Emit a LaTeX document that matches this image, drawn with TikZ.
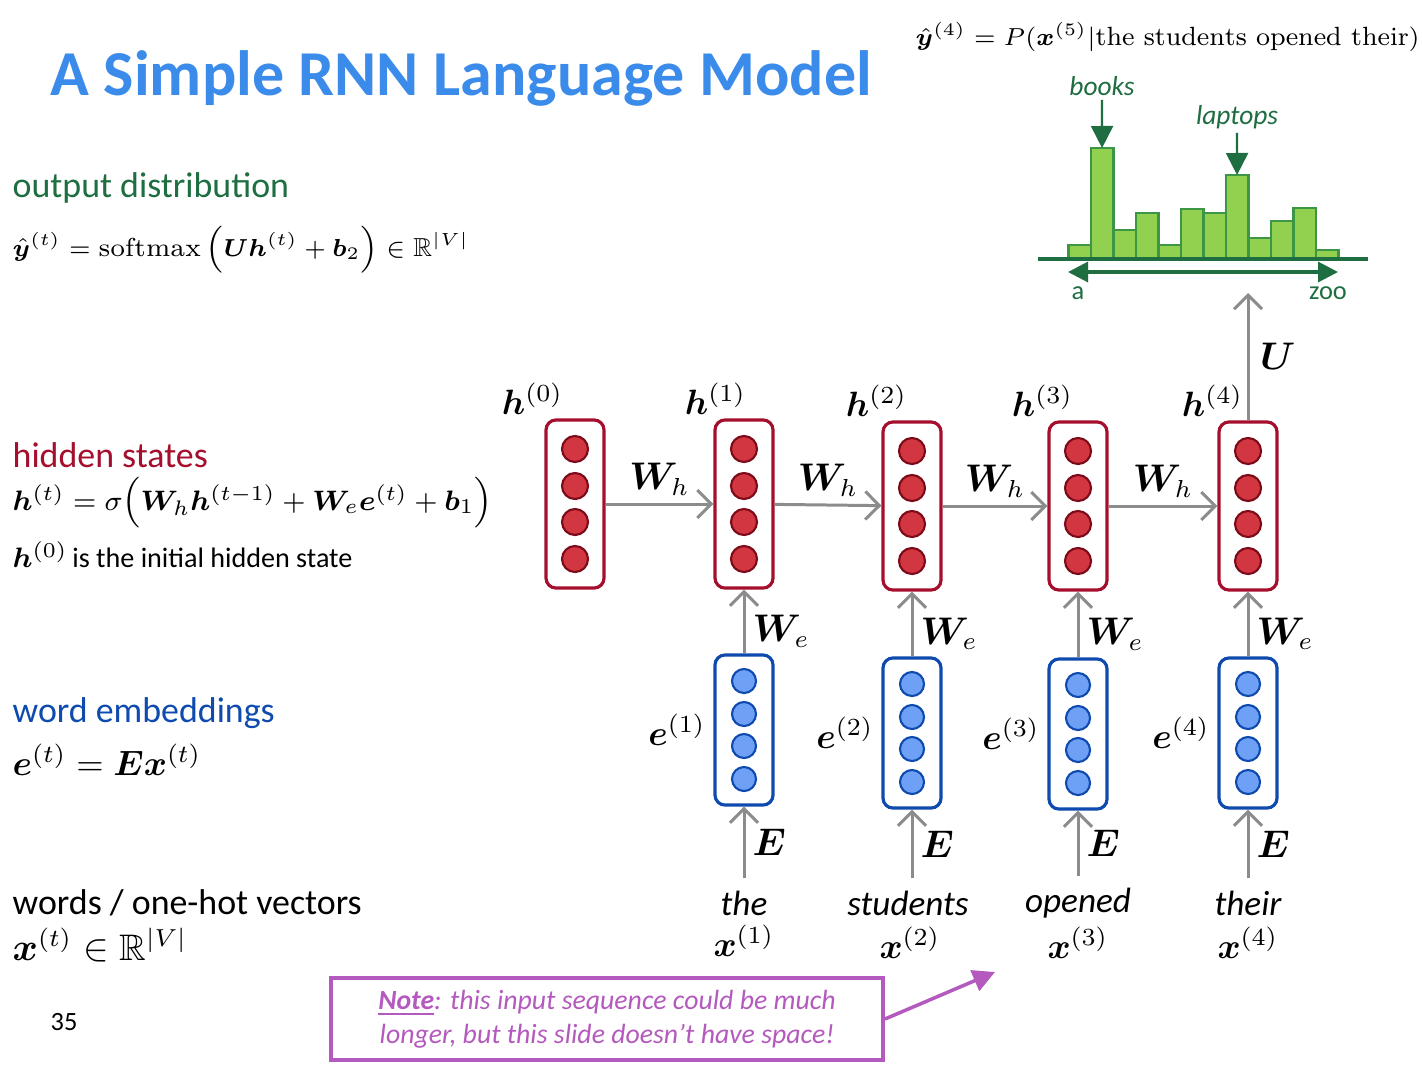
\documentclass[tikz,border=0pt]{standalone}
\usepackage{fontspec}
\usepackage{amsmath,amssymb,bm}
\newfontfamily\calibri{Carlito}
\usetikzlibrary{arrows.meta,positioning}
\definecolor{titleblue}{RGB}{59,139,235}
\definecolor{distgreen}{RGB}{30,110,65}
\definecolor{hidred}{RGB}{165,15,45}
\definecolor{hidfill}{RGB}{210,55,65}
\definecolor{hiddark}{RGB}{125,10,25}
\definecolor{embblue}{RGB}{15,75,175}
\definecolor{embfill}{RGB}{110,160,245}
\definecolor{flowgray}{RGB}{140,140,140}
\definecolor{barfill}{RGB}{146,208,80}
\definecolor{baredge}{RGB}{60,150,70}
\definecolor{notepurple}{RGB}{180,90,190}

\begin{document}
\begin{tikzpicture}[
    x=0.01cm,y=-0.01cm,
    hbox/.style={rectangle,rounded corners=1mm,draw=hidred,fill=white,line width=0.9pt,
      minimum width=0.58cm,minimum height=1.68cm},
    ebox/.style={rectangle,rounded corners=1mm,draw=embblue,fill=white,line width=0.9pt,
      minimum width=0.58cm,minimum height=1.5cm},
    hdot/.style={circle,draw=hiddark,fill=hidfill,line width=0.6pt,minimum size=0.26cm,inner sep=0pt},
    edot/.style={circle,draw=embblue,fill=embfill,line width=0.6pt,minimum size=0.24cm,inner sep=0pt},
    flow/.style={-{Straight Barb[length=1.4mm,width=2.8mm]},draw=flowgray,line width=0.85pt},
    pointer/.style={-{Triangle[length=2.2mm,width=2.2mm]},line width=1pt},
    mlbl/.style={font=\fontsize{10}{12}\selectfont,inner sep=2pt},
    wlbl/.style={font=\fontsize{10.5}{12}\selectfont,inner sep=1pt},
    word/.style={font=\calibri\itshape\fontsize{10}{12}\selectfont},
    heading/.style={font=\calibri\fontsize{10.2}{12}\selectfont,anchor=west,inner sep=0pt},
    formula/.style={font=\fontsize{8}{10}\selectfont,anchor=west,inner sep=0pt},
    histlbl/.style={font=\calibri\fontsize{7.5}{9}\selectfont,text=distgreen}
  ]
    \useasboundingbox[fill=white] (0,0) rectangle (1422,1066);

    % title and left-hand legend
    \node[anchor=base west,inner sep=0pt,text=titleblue,font=\calibri\bfseries\fontsize{18.2}{21}\selectfont]
      (title) at (50,95) {A Simple RNN Language Model};
    \node[heading,text=distgreen] (outhead) at (12,188) {output distribution};
    \node[formula,font=\fontsize{7.4}{10}\selectfont] (outeq) at (12,250)
      {$\hat{\bm{y}}^{(t)} = \operatorname{softmax}\Big(\bm{U}\bm{h}^{(t)} + \bm{b}_2\Big) \in \mathbb{R}^{|V|}$};
    \node[heading,text=hidred] (hidhead) at (12,455) {hidden states};
    \node[formula] (hideq) at (12,503)
      {$\bm{h}^{(t)} = \sigma\Big(\bm{W}_h\bm{h}^{(t-1)} + \bm{W}_e\bm{e}^{(t)} + \bm{b}_1\Big)$};
    \node[formula] (hidinit) at (12,555)
      {$\bm{h}^{(0)}$\,{\calibri\fontsize{8}{10}\selectfont is the initial hidden state}};
    \node[heading,text=embblue] (embhead) at (12,713) {word embeddings};
    \node[formula,font=\fontsize{9.6}{12}\selectfont] (embeq) at (12,760) {$\bm{e}^{(t)} = \bm{E}\bm{x}^{(t)}$};
    \node[heading] (wordhead) at (12,903) {words / one-hot vectors};
    \node[formula,font=\fontsize{10.5}{12}\selectfont] (wordeq) at (12,945) {$\bm{x}^{(t)} \in \mathbb{R}^{|V|}$};
    \node[font=\calibri\fontsize{7.5}{9}\selectfont] (pagenum) at (64,1022) {35};

    % hidden states and embeddings
    \node[hbox] (h0) at (575,504) {};
    \node[hbox] (h1) at (744,504) {};
    \node[hbox] (h2) at (912,506) {};
    \node[hbox] (h3) at (1078,506) {};
    \node[hbox] (h4) at (1248,506) {};
    \node[ebox] (e1) at (744,730) {};
    \node[ebox] (e2) at (912,733) {};
    \node[ebox] (e3) at (1078,734) {};
    \node[ebox] (e4) at (1248,733) {};
    \foreach \n in {h0,h1,h2,h3,h4}
      \foreach \dy in {-55,-18,18,55}
        \node[hdot] at ([yshift=-\dy*0.01cm]\n.center) {};
    \foreach \n in {e1,e2,e3,e4}
      \foreach \dy in {-49,-16,16,49}
        \node[edot] at ([yshift=-\dy*0.01cm]\n.center) {};

    \node[mlbl,anchor=base] at ([shift={(-12,-4)}]h0.north west) {$\bm{h}^{(0)}$};
    \node[mlbl,anchor=base] at ([shift={(2,-4)}]h1.north west) {$\bm{h}^{(1)}$};
    \node[mlbl,anchor=base] at ([shift={(-5,-4)}]h2.north west) {$\bm{h}^{(2)}$};
    \node[mlbl,anchor=base] at ([shift={(-5,-4)}]h3.north west) {$\bm{h}^{(3)}$};
    \node[mlbl,anchor=base] at ([shift={(-5,-4)}]h4.north west) {$\bm{h}^{(4)}$};
    \node[mlbl,left=0pt of e1] {$\bm{e}^{(1)}$};
    \node[mlbl,left=0pt of e2] {$\bm{e}^{(2)}$};
    \node[mlbl,left=0pt of e3] {$\bm{e}^{(3)}$};
    \node[mlbl,left=0pt of e4] {$\bm{e}^{(4)}$};

    % input words
    \node[word] (w1) at (744,903) {the};
    \node[word] (w2) at (908,903) {students};
    \node[word] (w3) at (1078,903) {opened};
    \node[word] (w4) at (1248,903) {their};
    \node[mlbl] (x1) at (744,941) {$\bm{x}^{(1)}$};
    \node[mlbl] (x2) at (910,943) {$\bm{x}^{(2)}$};
    \node[mlbl] (x3) at (1078,943) {$\bm{x}^{(3)}$};
    \node[mlbl] (x4) at (1248,943) {$\bm{x}^{(4)}$};

    \draw[flow] (h0) -- node[wlbl,above=1pt] {$\bm{W}_h$} (h1);
    \draw[flow] (h1) -- node[wlbl,above=1pt] {$\bm{W}_h$} (h2);
    \draw[flow] (h2) -- node[wlbl,above=1pt] {$\bm{W}_h$} (h3);
    \draw[flow] (h3) -- node[wlbl,above=1pt] {$\bm{W}_h$} (h4);
    \draw[flow] (e1) -- node[wlbl,right=1pt,pos=0.35] {$\bm{W}_e$} (h1);
    \draw[flow] (e2) -- node[wlbl,right=1pt,pos=0.35] {$\bm{W}_e$} (h2);
    \draw[flow] (e3) -- node[wlbl,right=1pt,pos=0.35] {$\bm{W}_e$} (h3);
    \draw[flow] (e4) -- node[wlbl,right=1pt,pos=0.35] {$\bm{W}_e$} (h4);
    \draw[flow] (w1.north -| e1.south) -- node[wlbl,right=1pt] {$\bm{E}$} (e1);
    \draw[flow] (w2.north -| e2.south) -- node[wlbl,right=1pt] {$\bm{E}$} (e2);
    \draw[flow] (w3.north -| e3.south) -- node[wlbl,right=1pt] {$\bm{E}$} (e3);
    \draw[flow] (w4.north -| e4.south) -- node[wlbl,right=1pt] {$\bm{E}$} (e4);
    \coordinate (ytop) at (1248,293);
    \draw[flow] (h4) -- node[wlbl,right=2pt] {$\bm{U}$} (ytop);

    % output distribution
    \node[font=\fontsize{7.5}{9}\selectfont,anchor=west,inner sep=0pt] (yhat) at (915,37)
      {$\hat{\bm{y}}^{(4)} = P(\bm{x}^{(5)}|\mathrm{the\ students\ opened\ their})$};
    \foreach \hgt [count=\i] in {14,111,29,46,14,50,46,84,21,38,51,9} {
      \draw[fill=barfill,draw=baredge,line width=0.7pt]
        (1068.3+\i*22.5-22.5,259) rectangle (1068.3+\i*22.5,259-\hgt);
      \coordinate (bar\i) at (1068.3+\i*22.5-11.25,259-\hgt);
    }
    \coordinate (axl) at (1038,259);
    \coordinate (axr) at (1368,259);
    \draw[draw=distgreen,line width=1pt] (axl) -- (axr);
    \node[histlbl] (vocA) at (1078,293) {a};
    \node[histlbl] (vocZ) at (1328,293) {zoo};
    \coordinate (spanl) at (1068,272);
    \coordinate (spanr) at (1338,272);
    \draw[{Triangle[length=2mm,width=2mm]}-{Triangle[length=2mm,width=2mm]},draw=distgreen,fill=distgreen,line width=0.9pt]
      (spanl) -- (spanr);
    \node[histlbl,font=\calibri\itshape\fontsize{7.8}{9}\selectfont,inner sep=1pt] (books) at (1102,86) {books};
    \node[histlbl,font=\calibri\itshape\fontsize{7.8}{9}\selectfont,inner sep=1pt] (laptops) at (1237,117) {laptops};
    \draw[pointer,draw=distgreen,fill=distgreen,line width=0.6pt] (books) -- (bar2);
    \draw[pointer,draw=distgreen,fill=distgreen,line width=0.6pt] (laptops) -- (bar8);

    % note
    \node[rectangle,draw=notepurple,line width=1pt,minimum width=5.52cm,minimum height=0.82cm,
      align=center,text=notepurple,font=\calibri\itshape\fontsize{7.9}{9.6}\selectfont] (note) at (607,1019)
      {\underline{\textbf{Note}}: this input sequence could be much\\longer, but this slide doesn’t have space!};
    \coordinate (notetip) at (995,972);
    \draw[pointer,draw=notepurple,fill=notepurple] (note.east) -- (notetip);
\end{tikzpicture}
\end{document}
